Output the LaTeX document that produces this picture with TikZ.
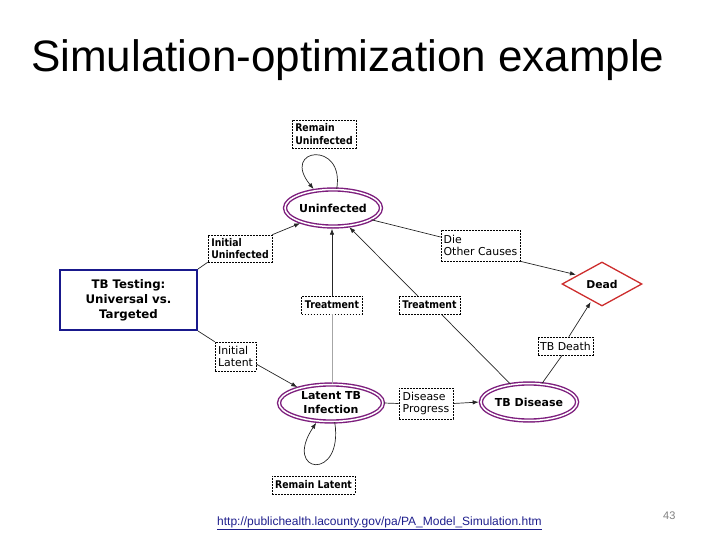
\documentclass[tikz,border=0pt]{standalone}
\usepackage{fontspec}
\setmainfont{DejaVu Sans}
\newfontfamily\condfont[FakeStretch=0.88]{DejaVu Sans}
\newfontfamily\arialfont{Liberation Sans}
\usetikzlibrary{arrows.meta,shapes.geometric}
\definecolor{ellpurple}{RGB}{125,30,125}
\definecolor{deadred}{RGB}{205,45,45}
\definecolor{boxnavy}{RGB}{25,25,140}
\definecolor{urlblue}{RGB}{30,30,140}
\tikzset{
  lbl/.style={draw=black, dash pattern=on 1.8pt off 1.2pt, line width=0.6pt, inner sep=1.5pt, align=left, anchor=center},
  lblb/.style={lbl, font=\condfont\fontsize{10.6}{12.5}\selectfont\bfseries},
  lblr/.style={lbl, font=\fontsize{10.9}{12.5}\selectfont},
  state/.style={ellipse, draw=ellpurple, line width=1.4pt, double=white, double distance=1.5pt, inner sep=0pt, align=center, font=\fontsize{11}{14}\selectfont\bfseries},
  conn/.style={line width=0.7pt, draw=black!85},
  arr/.style={conn, -{Latex[length=6pt,width=4.5pt]}, shorten >=1.5pt},
}
\begin{document}
\begin{tikzpicture}[x=1pt,y=-1pt]
\useasboundingbox (0,0) rectangle (720,540);
% title
\node[anchor=base west, inner sep=0pt, font=\arialfont\fontsize{44}{50}\selectfont] (title) at (31,72) {Simulation-optimization example};
% main nodes
\node[draw=boxnavy, line width=2pt, minimum width=137pt, minimum height=60pt, align=center, font=\fontsize{11.8}{15}\selectfont\bfseries] (tb) at (128.5,300) {TB Testing:\\Universal vs.\\Targeted};
\node[state, minimum width=96pt, minimum height=37pt] (unin) at (333,208) {Uninfected};
\node[state, minimum width=104pt, minimum height=37pt] (lat) at (331,403) {Latent TB\\Infection};
\node[state, minimum width=94pt, minimum height=37pt] (tbd) at (529,402) {TB Disease};
\node[diamond, draw=deadred, line width=1.3pt, aspect=1.82, inner sep=0pt, minimum width=80pt, minimum height=44pt, font=\fontsize{10.8}{12}\selectfont\bfseries] (dead) at (602,284) {Dead};
% label boxes
\node[lblb, minimum width=64pt, minimum height=28pt] (ru) at (324,134) {Remain\\Uninfected};
\node[lblb, minimum width=64pt, minimum height=27pt] (iu) at (240,248.5) {Initial\\Uninfected};
\node[lblr, minimum width=41pt, minimum height=29pt] (il) at (235.5,356.5) {Initial\\Latent};
\node[lblb, minimum width=61pt, minimum height=18pt] (trL) at (332,305) {Treatment};
\node[lblb, minimum width=61pt, minimum height=18pt] (trR) at (429.5,305) {Treatment};
\node[lblr, minimum width=79pt, minimum height=31pt] (die) at (480.5,245.5) {Die\\Other Causes};
\node[lblr, minimum width=55pt, minimum height=18pt] (td) at (565.5,346) {TB Death};
\node[lblr, minimum width=54pt, minimum height=31pt] (dp) at (426,403.5) {Disease\\Progress};
\node[lblb, minimum width=83pt, minimum height=18pt] (rl) at (313.5,485) {Remain Latent};
% connectors
\draw[arr] (unin.79) .. controls (345,140) and (280,148) .. (unin.136);
\draw[arr] (lat.281) .. controls (344,482) and (282,474) .. (lat.233);
\draw[conn] (tb.north east) -- (iu.south west);
\draw[arr] (iu.north east) -- (unin.205);
\draw[conn] (tb.south east) -- (il.north west);
\draw[arr] (il.-20) -- (lat.155);
\draw[line width=0.7pt, draw=black!35] (lat.north -| trL.south) -- (trL.south);
\draw[arr] (trL.north) -- (trL.north |- unin.south);
\draw[conn] (tbd.136) -- (trR.-38);
\draw[arr] (trR.142) -- (unin.-50);
\draw[conn] (unin.-17) -- (die.168);
\draw[arr] (die.south east) -- (dead.160);
\draw[conn] (tbd.55) -- (td.-110);
\draw[arr] (td.70) -- (dead.238);
\draw[conn] (lat.east) -- (dp.west);
\draw[arr] (dp.east) -- (tbd.west);
% footer
\node[anchor=base west, inner sep=0pt, text=urlblue, font=\arialfont\fontsize{12}{14}\selectfont] (url) at (217,525) {\underline{http://publichealth.lacounty.gov/pa/PA\_Model\_Simulation.htm}};
\node[anchor=base west, inner sep=0pt, text=black!50, font=\arialfont\fontsize{11}{13}\selectfont] (pg) at (663,519) {43};
\end{tikzpicture}
\end{document}
